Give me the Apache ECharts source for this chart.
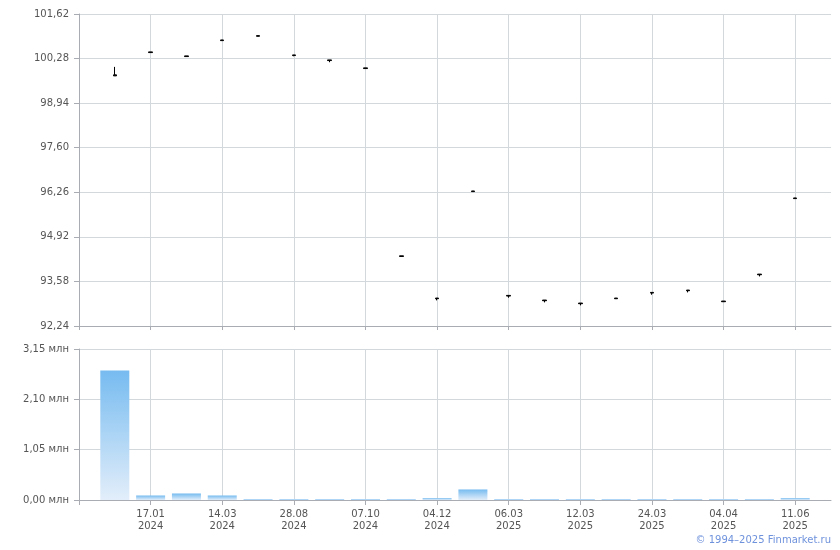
<!DOCTYPE html>
<html>
<head>
<meta charset="utf-8">
<script src="https://cdn.jsdelivr.net/npm/echarts@6/dist/echarts.min.js"></script>
<style>html,body{margin:0;padding:0;background:#fff}#c{width:840px;height:550px}</style>
</head>
<body>
<div id="c"></div>
<script>
// category slots (index 0 and 21 are empty padding slots)
var categories = ['', '', '17.01\n2024', '', '14.03\n2024', '', '28.08\n2024', '', '07.10\n2024', '',
  '04.12\n2024', '', '06.03\n2025', '', '12.03\n2025', '', '24.03\n2025', '', '04.04\n2025', '', '11.06\n2025', ''];
// prices: [open, close, low, high]
var prices = [
  '-',
  [99.76, 99.79, 99.76, 100.03],
  [100.46, 100.48, 100.46, 100.48],
  [100.34, 100.36, 100.34, 100.36],
  [100.82, 100.84, 100.82, 100.84],
  [100.95, 100.97, 100.95, 100.97],
  [100.37, 100.39, 100.35, 100.39],
  [100.22, 100.24, 100.17, 100.24],
  [99.98, 100.00, 99.98, 100.00],
  [94.33, 94.35, 94.33, 94.35],
  [93.06, 93.08, 93.01, 93.08],
  [96.28, 96.30, 96.28, 96.30],
  [93.14, 93.16, 93.09, 93.16],
  [93.00, 93.02, 92.95, 93.02],
  [92.91, 92.93, 92.86, 92.93],
  [93.06, 93.08, 93.06, 93.08],
  [93.23, 93.25, 93.18, 93.25],
  [93.30, 93.32, 93.25, 93.32],
  [92.97, 92.99, 92.97, 92.99],
  [93.78, 93.80, 93.73, 93.80],
  [96.07, 96.09, 96.07, 96.09],
  '-'
];
var volumes = ['-', 2700000, 94000, 136000, 94000, 20000, 20000, 20000, 20000, 20000,
  40000, 220000, 20000, 20000, 20000, 20000, 20000, 20000, 20000, 20000, 40000, '-'];
var priceMin = 92.24, priceMax = 101.62, priceStep = 1.34;
var volMax = 3150000, volStep = 1050000;

var gridColor = '#d3d8dc', axisColor = '#a9acb3', labelColor = '#555';
var font = 'DejaVu Sans';

function fmt(v, d) { return v.toFixed(d).replace('.', ','); }

var chart = echarts.init(document.getElementById('c'));
chart.setOption({
  animation: false,
  grid: [
    {left: 79, right: 9, top: 14, height: 312},
    {left: 79, right: 9, top: 349, height: 151}
  ],
  xAxis: [
    {gridIndex: 0, type: 'category', data: categories, boundaryGap: false,
      axisLine: {lineStyle: {color: axisColor}},
      axisTick: {interval: 1, length: 4, lineStyle: {color: axisColor}},
      axisLabel: {show: false},
      splitLine: {show: true, interval: 1, lineStyle: {color: gridColor}}},
    {gridIndex: 1, type: 'category', data: categories, boundaryGap: false,
      axisLine: {lineStyle: {color: axisColor}},
      axisTick: {interval: 1, length: 5, lineStyle: {color: axisColor}},
      axisLabel: {interval: 1, color: labelColor, fontFamily: font, fontSize: 10, lineHeight: 12, margin: 8},
      splitLine: {show: true, interval: 1, lineStyle: {color: gridColor}}}
  ],
  yAxis: [
    {gridIndex: 0, type: 'value', min: priceMin, max: priceMax, interval: priceStep,
      axisLine: {show: true, lineStyle: {color: axisColor}},
      axisTick: {show: true, length: 5, lineStyle: {color: axisColor}},
      axisLabel: {color: labelColor, fontFamily: font, fontSize: 10, margin: 10,
        formatter: function (v) { return fmt(v, 2); }},
      splitLine: {lineStyle: {color: gridColor}}},
    {gridIndex: 1, type: 'value', min: 0, max: volMax, interval: volStep,
      axisLine: {show: true, lineStyle: {color: axisColor}},
      axisTick: {show: true, length: 5, lineStyle: {color: axisColor}},
      axisLabel: {color: labelColor, fontFamily: font, fontSize: 10, margin: 10,
        formatter: function (v) { return fmt(v / 1e6, 2) + ' млн'; }},
      splitLine: {lineStyle: {color: gridColor}}}
  ],
  series: [
    {type: 'candlestick', xAxisIndex: 0, yAxisIndex: 0, data: prices, barWidth: 4,
      itemStyle: {color: '#000', color0: '#000', borderColor: '#000', borderColor0: '#000', borderWidth: 1}},
    {type: 'bar', xAxisIndex: 1, yAxisIndex: 1, data: volumes, barWidth: 29,
      itemStyle: {color: new echarts.graphic.LinearGradient(0, 0, 0, 1, [
        {offset: 0, color: '#76bbf0'}, {offset: 1, color: '#e3eefa'}])}}
  ],
  graphic: [
    {type: 'text', right: 9, top: 535, style: {text: '© 1994–2025 Finmarket.ru', fill: '#6f92dc',
      font: '10px "DejaVu Sans"'}}
  ]
});
</script>
</body>
</html>
